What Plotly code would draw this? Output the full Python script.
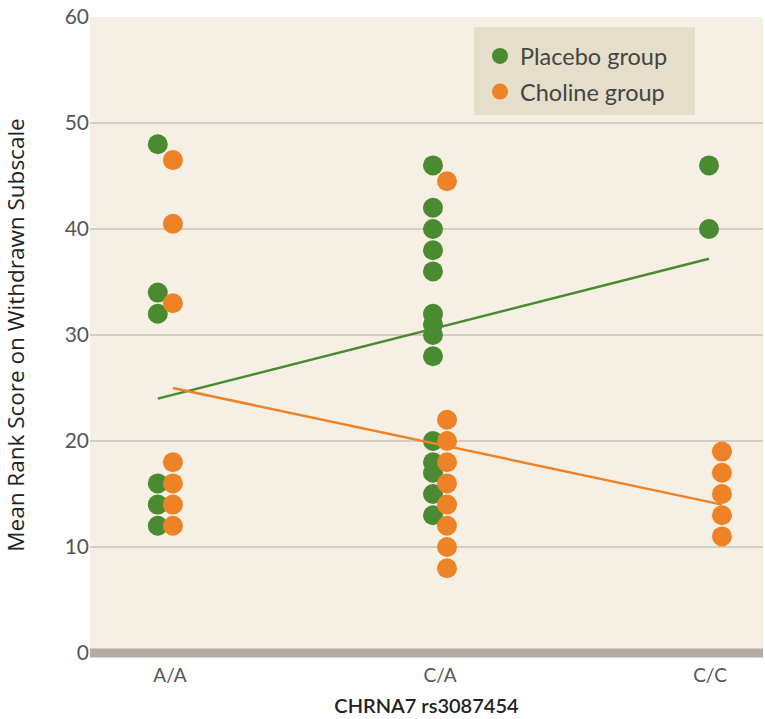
import plotly.graph_objects as go

categories = ["A/A", "C/A", "C/C"]
cat_index = {c: i for i, c in enumerate(categories)}

# Placebo group values per genotype
placebo_AA = [48, 34, 32, 16, 14, 12]
placebo_CA = [46, 42, 40, 38, 36, 32, 31, 30, 28, 20, 18, 17, 15, 13]
placebo_CC = [46, 40]

# Choline group values per genotype
choline_AA = [46.5, 40.5, 33, 18, 16, 14, 12]
choline_CA = [44.5, 22, 20, 18, 16, 14, 12, 10, 8]
choline_CC = [19, 17, 15, 13, 11]

# horizontal offsets (category units) for each group's dot column
placebo_offset = {"A/A": -0.045, "C/A": -0.026, "C/C": -0.004}
choline_offset = {"A/A": 0.011, "C/A": 0.026, "C/C": 0.044}

# trend line end values (at A/A and C/C)
placebo_trend = [24.0, 37.2]
choline_trend = [25.0, 14.0]

GREEN = "#4a8a31"
ORANGE = "#ed8226"

def build(groups, offsets):
    xs, ys = [], []
    for cat, vals in groups:
        for v in vals:
            xs.append(cat_index[cat] + offsets[cat])
            ys.append(v)
    return xs, ys

px, py = build([("A/A", placebo_AA), ("C/A", placebo_CA), ("C/C", placebo_CC)], placebo_offset)
cx, cy = build([("A/A", choline_AA), ("C/A", choline_CA), ("C/C", choline_CC)], choline_offset)

fig = go.Figure()
fig.add_trace(go.Scatter(x=px, y=py, mode="markers", name="Placebo group",
                         legendgroup="p",
                         marker=dict(color=GREEN, size=20, line=dict(width=0))))
fig.add_trace(go.Scatter(x=cx, y=cy, mode="markers", name="Choline group",
                         legendgroup="c",
                         marker=dict(color=ORANGE, size=20, line=dict(width=0))))
fig.add_trace(go.Scatter(x=[cat_index["A/A"] + placebo_offset["A/A"], cat_index["C/C"] + placebo_offset["C/C"]],
                         y=placebo_trend, mode="lines", showlegend=False, hoverinfo="skip",
                         line=dict(color=GREEN, width=2.5)))
fig.add_trace(go.Scatter(x=[cat_index["A/A"] + choline_offset["A/A"], cat_index["C/C"] + choline_offset["C/C"]],
                         y=choline_trend, mode="lines", showlegend=False, hoverinfo="skip",
                         line=dict(color=ORANGE, width=2.5)))

# thick baseline band at zero
fig.add_shape(type="line", xref="paper", yref="paper", x0=0, x1=1, y0=0, y1=0,
              line=dict(color="#b3aaa4", width=9))
# legend background panel
fig.add_shape(type="rect", xref="paper", yref="paper", x0=0.5706, x1=0.899, y0=0.846, y1=0.984,
              fillcolor="#e4decb", line=dict(width=0), layer="above")

fig.update_layout(
    width=765, height=719,
    margin=dict(l=90, r=2, t=17, b=66),
    paper_bgcolor="white",
    plot_bgcolor="#f6efe4",
    font=dict(family="Lato, 'Open Sans', sans-serif", color="#555555"),
    xaxis=dict(range=[-0.296, 2.196], tickmode="array", tickvals=[0, 1, 2],
               ticktext=categories, showgrid=False, zeroline=False, showline=False,
               ticks="", automargin=False, ticklabelstandoff=9,
               tickfont=dict(size=19, color="#555555"),
               title=dict(text="CHRNA7 rs3087454",
                          font=dict(family="Lato", size=20, color="#222222", weight=600),
                          standoff=13)),
    yaxis=dict(range=[0, 60], tickvals=[0, 10, 20, 30, 40, 50, 60],
               showgrid=True, gridcolor="#d3ccc7", gridwidth=2, zeroline=False,
               showline=False, ticks="", automargin=False, ticklabeloverflow="allow",
               tickfont=dict(size=21, color="#555555"),
               title=dict(text="Mean Rank Score on Withdrawn Subscale",
                          font=dict(family="Open Sans", size=22.5, color="#222222"),
                          standoff=37)),
    legend=dict(x=0.5795, y=0.973, xanchor="left", yanchor="top",
                bgcolor="rgba(0,0,0,0)", font=dict(size=23.5, color="#444444"),
                tracegroupgap=2, itemsizing="trace"),
    showlegend=True,
)

fig.write_html("out.html", config={"displayModeBar": False},
               post_script="document.body.style.margin='0px';")
